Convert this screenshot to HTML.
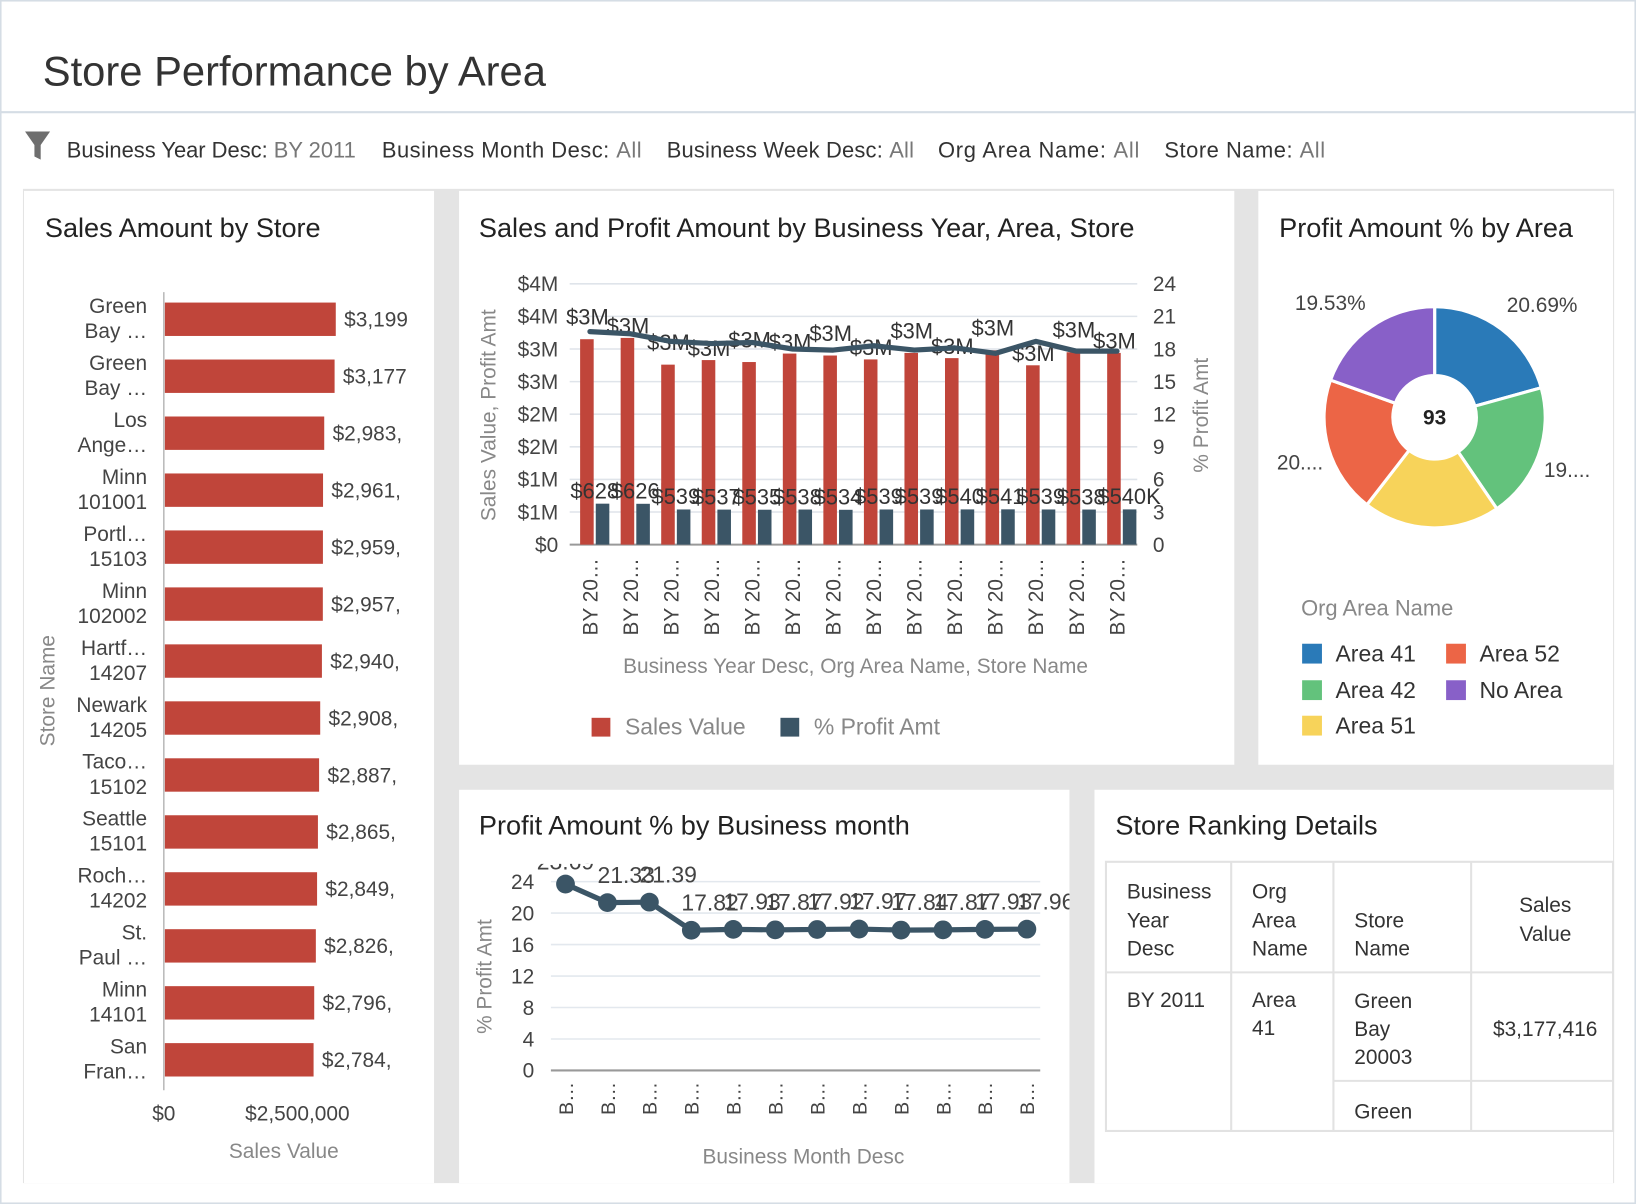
<!DOCTYPE html>
<html><head><meta charset="utf-8"><style>
html,body{margin:0;padding:0;background:#fff;overflow:hidden}
#wrap{width:1568px;height:1154px;transform:scale(1.04337,1.04333);transform-origin:0 0;position:relative}
svg text{font-family:"Liberation Sans",sans-serif}
</style></head><body>
<div id="wrap">
<svg id="s" width="1568" height="1154" viewBox="0 0 1568 1154" xmlns="http://www.w3.org/2000/svg">
<rect x="0.5" y="0.5" width="1567" height="1153" fill="#fff" stroke="#d5dde5" stroke-width="2"/>
<text x="41" y="82" font-size="40" fill="#333">Store Performance by Area</text>
<line x1="1" y1="107.5" x2="1567" y2="107.5" stroke="#d5dde5" stroke-width="2"/>
<g><path d="M24 126 H48 L39 139 V153 L33 150 V139 Z" fill="#6e6e6e"/></g>
<g font-size="21" fill="#333">
<text x="64" y="151" textLength="277">Business Year Desc: <tspan fill="#777">BY 2011</tspan></text>
<text x="366" y="151" textLength="249">Business Month Desc: <tspan fill="#777">All</tspan></text>
<text x="639" y="151" textLength="237">Business Week Desc: <tspan fill="#777">All</tspan></text>
<text x="899" y="151" textLength="193">Org Area Name: <tspan fill="#777">All</tspan></text>
<text x="1116" y="151" textLength="154">Store Name: <tspan fill="#777">All</tspan></text>
</g>
<rect x="22" y="181" width="1525" height="953" fill="#e4e4e4"/>
<rect x="23" y="183" width="393" height="951" fill="#fff"/>
<rect x="440" y="183" width="743" height="550" fill="#fff"/>
<rect x="1206" y="183" width="340" height="550" fill="#fff"/>
<rect x="440" y="757" width="585" height="377" fill="#fff"/>
<rect x="1049" y="757" width="497" height="377" fill="#fff"/>
<g font-size="26" fill="#222">
<text x="43" y="227">Sales Amount by Store</text>
<text x="459" y="227">Sales and Profit Amount by Business Year, Area, Store</text>
<text x="1226" y="227">Profit Amount % by Area</text>
<text x="459" y="800">Profit Amount % by Business month</text>
<text x="1069" y="800">Store Ranking Details</text>
</g>
<defs><clipPath id="lc"><rect x="23" y="183" width="367" height="951"/></clipPath>
<clipPath id="mc"><rect x="440" y="183" width="743" height="550"/></clipPath>
<clipPath id="bc"><rect x="440" y="828" width="585" height="306"/></clipPath></defs>
<g id="left" clip-path="url(#lc)"></g>
<g id="mid" clip-path="url(#mc)"></g>
<g id="pie"></g>
<g id="bot" clip-path="url(#bc)"></g>
<g id="tbl" font-size="20" fill="#333">
<rect x="1060" y="826" width="486" height="258" fill="none" stroke="#e2e2e2" stroke-width="2"/>
<line x1="1060" y1="932" x2="1546" y2="932" stroke="#e2e2e2" stroke-width="2"/>
<line x1="1180" y1="826" x2="1180" y2="1084" stroke="#e2e2e2" stroke-width="2"/>
<line x1="1278" y1="826" x2="1278" y2="1084" stroke="#e2e2e2" stroke-width="2"/>
<line x1="1410" y1="826" x2="1410" y2="1084" stroke="#e2e2e2" stroke-width="2"/>
<line x1="1278" y1="1036" x2="1546" y2="1036" stroke="#e2e2e2" stroke-width="2"/>
<text x="1080" y="861">Business</text><text x="1080" y="889">Year</text><text x="1080" y="916">Desc</text>
<text x="1200" y="861">Org</text><text x="1200" y="889">Area</text><text x="1200" y="916">Name</text>
<text x="1298" y="889">Store</text><text x="1298" y="916">Name</text>
<text x="1506" y="874" text-anchor="end">Sales</text><text x="1506" y="902" text-anchor="end">Value</text>
<text x="1080" y="965">BY 2011</text>
<text x="1200" y="965">Area</text><text x="1200" y="992">41</text>
<text x="1298" y="966">Green</text><text x="1298" y="993">Bay</text><text x="1298" y="1020">20003</text>
<text x="1531" y="993" text-anchor="end">$3,177,416</text>
<text x="1298" y="1072">Green</text>
</g>
</svg>
</div>
<script>
// ----- Sales Amount by Store -----
const storeLine1 = ["Green","Green","Los","Minn","Portl\u2026","Minn","Hartf\u2026","Newark","Taco\u2026","Seattle","Roch\u2026","St.","Minn","San"];
const storeLine2 = ["Bay \u2026","Bay \u2026","Ange\u2026","101001","15103","102002","14207","14205","15102","15101","14202","Paul \u2026","14101","Fran\u2026"];
const storeSales = [3199500,3177416,2983400,2961200,2959100,2957300,2940200,2908100,2887400,2865500,2849500,2826500,2796000,2784100];
const storeSalesLabels = ["$3,199,","$3,177,","$2,983,","$2,961,","$2,959,","$2,957,","$2,940,","$2,908,","$2,887,","$2,865,","$2,849,","$2,826,","$2,796,","$2,784,"];
const storeTicks = [0,2500000];
const storeTickLabels = ["$0","$2,500,000"];
// ----- Sales & Profit by Year/Area/Store -----
const spCategories = ["BY 20\u2026","BY 20\u2026","BY 20\u2026","BY 20\u2026","BY 20\u2026","BY 20\u2026","BY 20\u2026","BY 20\u2026","BY 20\u2026","BY 20\u2026","BY 20\u2026","BY 20\u2026","BY 20\u2026","BY 20\u2026"];
const spSales = [3150000,3170000,2760000,2830000,2800000,2930000,2900000,2840000,2940000,2860000,2980000,2750000,2950000,2940000];
const spProfit = [628000,626000,539000,537000,535000,538000,534000,539000,539000,540000,541000,539000,538000,540000];
const spProfitLabels = ["$628K","$626K","$539K","$537K","$535K","$538K","$534K","$539K","$539K","$540K","$541K","$539K","$538K","$540K"];
const spPct = [19.6,19.4,18.7,18.5,18.6,18.0,17.9,18.3,17.9,18.1,17.6,18.7,17.8,17.8];
const spLeftTicks = ["$0","$1M","$1M","$2M","$2M","$3M","$3M","$4M","$4M"];
const spRightTicks = [0,3,6,9,12,15,18,21,24];
// ----- Pie -----
const pieAreas = ["Area 41","Area 42","Area 51","Area 52","No Area"];
const piePct = [20.69,19.80,20.00,19.98,19.53];
const pieLabels = ["20.69%","19....","","20....","19.53%"];
const pieTotal = "93";
// ----- Profit % by month -----
const monthCats = ["B\u2026","B\u2026","B\u2026","B\u2026","B\u2026","B\u2026","B\u2026","B\u2026","B\u2026","B\u2026","B\u2026","B\u2026"];
const monthPct = [23.69,21.33,21.39,17.82,17.93,17.87,17.92,17.97,17.84,17.87,17.93,17.96];
const monthTicks = [0,4,8,12,16,20,24];

const NS="http://www.w3.org/2000/svg";
function mk(parent,tag,attrs,txt){const e=document.createElementNS(NS,tag);for(const k in attrs)e.setAttribute(k,attrs[k]);if(txt!==undefined)e.textContent=txt;parent.appendChild(e);return e;}
const RED="#c0453a",DARK="#3b5566";

// Left chart
(function(){
 const g=document.getElementById('left');
 const x0=157,pxPer=128/2500000,yTop=306,step=54.6;
 const X=v=>x0+v*pxPer, Y=i=>yTop+i*step;
 mk(g,'line',{x1:x0,y1:280,x2:x0,y2:1045,stroke:'#bbb','stroke-width':1.5});
 storeSales.forEach((v,i)=>{
  const b=mk(g,'rect',{x:x0+1,y:Y(i)-16,width:X(v)-x0,height:32,fill:RED});
  
  
  const t=mk(g,'text',{x:X(v)+9,y:Y(i)+7,'font-size':20,fill:'#444'},storeSalesLabels[i]);
  
  
  const a=mk(g,'text',{x:141,y:Y(i)-6,'font-size':20,fill:'#444','text-anchor':'end'},storeLine1[i]);
  
  
  const b2=mk(g,'text',{x:141,y:Y(i)+18,'font-size':20,fill:'#444','text-anchor':'end'},storeLine2[i]);
  
  
 });
 storeTicks.forEach((v,i)=>{
  const t=mk(g,'text',{x:X(v),y:1074,'font-size':20,fill:'#444','text-anchor':'middle'},storeTickLabels[i]);
  
  
 });
 const xt=mk(g,'text',{x:272,y:1110,'font-size':20,fill:'#888','text-anchor':'middle'},'Sales Value');
 
 
 const yt=mk(g,'text',{x:0,y:0,'font-size':20,fill:'#888','text-anchor':'middle',transform:'translate(52,662) rotate(-90)'},'Store Name');
 
 
})();

// Middle chart
(function(){
 const g=document.getElementById('mid');
 const xL=546,xR=1090,yB=522,yT=272;
 const Y=v=>yB-(v/4000000)*(yB-yT);
 const YR=v=>yB-(v/24)*(yB-yT);
 const gw=(xR-xL)/spSales.length;
 spLeftTicks.forEach((l,i)=>{
  const y=yB-i*(yB-yT)/8;
  mk(g,'line',{x1:xL,y1:y,x2:xR,y2:y,stroke:i==0?'#999':'#dfe4ea','stroke-width':i==0?2:1.5});
  const t=mk(g,'text',{x:535,y:y+7,'font-size':20,fill:'#444','text-anchor':'end'},l);
  
  
 });
 spRightTicks.forEach(v=>{
  const t=mk(g,'text',{x:1105,y:YR(v)+7,'font-size':20,fill:'#444'},String(v));
  
  
 });
 const pts=[];
 spSales.forEach((v,i)=>{
  const gx=xL+i*gw;
  const r=mk(g,'rect',{x:gx+10,y:Y(v),width:13,height:yB-Y(v),fill:RED});
  
  
  const d=mk(g,'rect',{x:gx+25,y:Y(spProfit[i]),width:13,height:yB-Y(spProfit[i]),fill:DARK});
  
  
  const lt=mk(g,'text',{x:gx+17,y:Y(v)-(i%2?4:14),'font-size':21,fill:'#333','text-anchor':'middle'},'$3M');
  
  
  const pt=mk(g,'text',{x:gx+31,y:Y(spProfit[i])-5,'font-size':21,fill:'#333','text-anchor':'middle'},spProfitLabels[i]);
  
  
  pts.push((gx+gw/2)+','+YR(spPct[i]));
  const c=mk(g,'text',{x:0,y:0,'font-size':20,fill:'#444','text-anchor':'end',transform:`translate(${gx+gw/2+7},535) rotate(-90)`},spCategories[i]);
  
  
 });
 const pl=mk(g,'polyline',{points:pts.join(' '),fill:'none',stroke:DARK,'stroke-width':5,'stroke-linejoin':'round','stroke-linecap':'round'});
 
 
 const xt=mk(g,'text',{x:820,y:645,'font-size':20,fill:'#888','text-anchor':'middle'},'Business Year Desc, Org Area Name, Store Name');
 
 
 const yt=mk(g,'text',{x:0,y:0,'font-size':20,fill:'#888','text-anchor':'middle',transform:'translate(475,398) rotate(-90)'},'Sales Value, Profit Amt');
 
 
 const yt2=mk(g,'text',{x:0,y:0,'font-size':20,fill:'#888','text-anchor':'middle',transform:'translate(1158,398) rotate(-90)'},'% Profit Amt');
 
 
 const l1=mk(g,'rect',{x:567,y:688,width:18,height:18,fill:RED});
 
 
 const l1t=mk(g,'text',{x:599,y:704,'font-size':22,fill:'#888'},'Sales Value');
 
 
 const l2=mk(g,'rect',{x:748,y:688,width:18,height:18,fill:DARK});
 
 
 const l2t=mk(g,'text',{x:780,y:704,'font-size':22,fill:'#888'},'% Profit Amt');
 
 
})();

// Pie
(function(){
 const g=document.getElementById('pie');
 const cx=1375,cy=400,R=106,r=40;
 const cols=["#2a7ab8","#63c27c","#f7d35a","#ec6546","#8860c8"];
 const tot=piePct.reduce((a,b)=>a+b,0);
 let a0=0;
 piePct.forEach((v,i)=>{
  const a1=a0+v/tot*2*Math.PI;
  const p=(a,rr)=>[cx+rr*Math.sin(a),cy-rr*Math.cos(a)];
  const [x1,y1]=p(a0,R),[x2,y2]=p(a1,R),[x3,y3]=p(a1,r),[x4,y4]=p(a0,r);
  const lg=(a1-a0)>Math.PI?1:0;
  const s=mk(g,'path',{d:`M${x1},${y1} A${R},${R} 0 ${lg} 1 ${x2},${y2} L${x3},${y3} A${r},${r} 0 ${lg} 0 ${x4},${y4} Z`,fill:cols[i],stroke:'#fff','stroke-width':3});
  
  
  a0=a1;
 });
 const ct=mk(g,'text',{x:cx,y:cy+7,'font-size':20,'font-weight':'bold',fill:'#222','text-anchor':'middle'},pieTotal);
 
 
 const lp=[[1478,299],[1502,457],[0,0],[1246,450],[1275,297]];
 pieLabels.forEach((l,i)=>{ if(!l)return;
  const t=mk(g,'text',{x:lp[i][0],y:lp[i][1],'font-size':20,fill:'#444','text-anchor':'middle'},l);
  
  
 });
 const lt=mk(g,'text',{x:1247,y:590,'font-size':21,fill:'#888'},'Org Area Name');
 
 
 const pos=[[1248,617],[1248,652],[1248,686],[1386,617],[1386,652]];
 pieAreas.forEach((n,i)=>{
  const s=mk(g,'rect',{x:pos[i][0],y:pos[i][1],width:19,height:19,fill:cols[i]});
  
  
  const t=mk(g,'text',{x:pos[i][0]+32,y:pos[i][1]+17,'font-size':22,fill:'#333'},n);
  
  
 });
})();

// Bottom line chart
(function(){
 const g=document.getElementById('bot');
 const xL=528,xR=997,yB=1026,yT=845,x0=542,dx=40.2;
 const Y=v=>yB-v/24*(yB-yT), X=i=>x0+i*dx;
 monthTicks.forEach(v=>{
  mk(g,'line',{x1:xL,y1:Y(v),x2:xR,y2:Y(v),stroke:v==0?'#999':'#e3e8ee','stroke-width':v==0?2:1.5});
  const t=mk(g,'text',{x:512,y:Y(v)+7,'font-size':20,fill:'#444','text-anchor':'end'},String(v));
  
  
 });
 const pl=mk(g,'polyline',{points:monthPct.map((v,i)=>X(i)+','+Y(v)).join(' '),fill:'none',stroke:DARK,'stroke-width':5});
 
 
 monthPct.forEach((v,i)=>{
  const c=mk(g,'circle',{cx:X(i),cy:Y(v),r:9,fill:DARK});
  
  
  const t=mk(g,'text',{x:X(i)+(i==0?0:18),y:Y(v)-(i==0?14:19),'font-size':22,fill:'#444','text-anchor':'middle'},v.toFixed(2));
  
  
  const m=mk(g,'text',{x:0,y:0,'font-size':19,fill:'#444','text-anchor':'end',transform:`translate(${X(i)+7},1037) rotate(-90)`},monthCats[i]);
  
  
 });
 const xt=mk(g,'text',{x:770,y:1115,'font-size':20,fill:'#888','text-anchor':'middle'},'Business Month Desc');
 
 
 const yt=mk(g,'text',{x:0,y:0,'font-size':20,fill:'#888','text-anchor':'middle',transform:'translate(471,936) rotate(-90)'},'% Profit Amt');
 
 
})();
</script>
</body></html>
